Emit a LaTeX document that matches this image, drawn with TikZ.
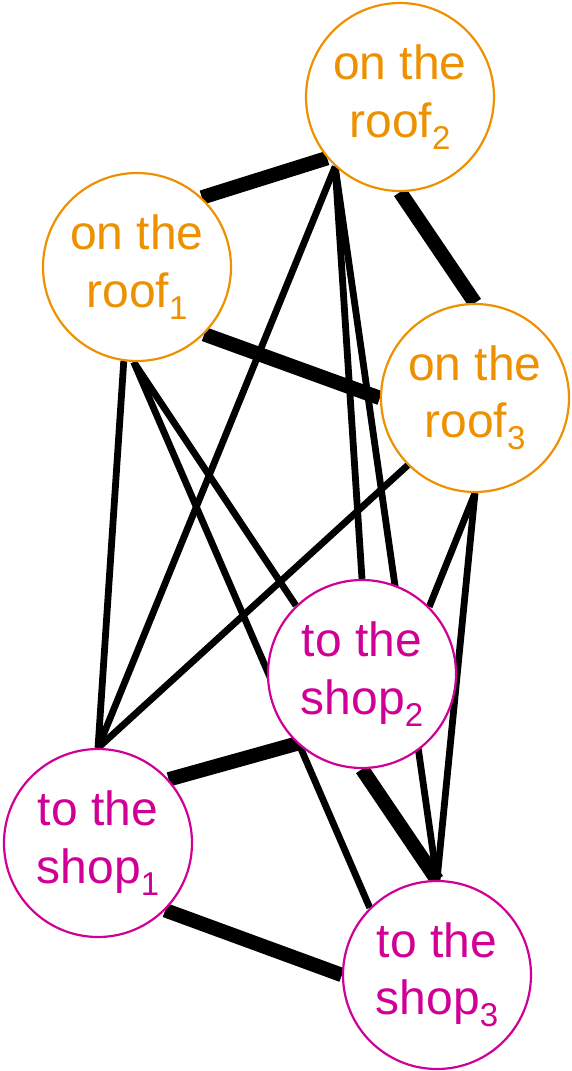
\documentclass[tikz,border=0pt]{standalone}
\usepackage{xcolor}
\usepackage{fontspec}
\usepackage{tikz}
\usetikzlibrary{backgrounds}
\newfontfamily\lblfont{Liberation Sans}
\definecolor{roofcol}{RGB}{237,145,0}
\definecolor{shopcol}{RGB}{208,0,150}
\newcommand{\lowsub}[1]{\raisebox{-6pt}{\fontsize{16.5}{16.5}\selectfont #1}}

\begin{document}
\begin{tikzpicture}[
      x=0.5pt, y=-0.5pt,
      phrase/.style={draw, circle, line width=1.1pt, minimum size=94pt, inner sep=0pt, fill=white, align=center,
                     font=\lblfont\fontsize{24}{28.7}\selectfont, execute at begin node=\rule{0pt}{29.5pt}},
      roof/.style={phrase, draw=roofcol, text=roofcol},
      shop/.style={phrase, draw=shopcol, text=shopcol},
      tie/.style={line width=3.4pt},
      strongtie/.style={line width=7.2pt}
    ]
    \useasboundingbox (0,0) rectangle (572,1071);
    \node[roof] (roof1) at (137,267) {on the\\roof\lowsub{1}};
    \node[roof] (roof2) at (400,97) {on the\\roof\lowsub{2}};
    \node[roof] (roof3) at (475,398) {on the\\roof\lowsub{3}};
    \node[shop] (shop1) at (98,843) {to the\\shop\lowsub{1}};
    \node[shop] (shop2) at (362,674) {to the\\shop\lowsub{2}};
    \node[shop] (shop3) at (437,975) {to the\\shop\lowsub{3}};

    \begin{scope}[on background layer]
    \draw[strongtie] (roof1.47) -- (roof2.220);
    \draw[strongtie] (roof2.south) -- (roof3.north);
    \draw[strongtie] (roof1.-45) -- (roof3.west);
    \draw[strongtie] (shop1.42) -- (shop2.227);
    \draw[strongtie] (shop1.-45) -- (shop3.west);
    \draw[strongtie] (shop2.south) -- (shop3.north);

    \draw[tie] (roof1.262) -- (shop1.north);
    \draw[tie] (roof1.268) -- (shop2.134);
    \draw[tie] (roof1.268) -- (shop3.135);
    \draw[tie] (roof2.227) -- (shop1.north);
    \draw[tie] (roof2.227) -- (shop2.north);
    \draw[tie] (roof2.227) -- (shop3.north);
    \draw[tie] (roof3.225) -- (shop1.north);
    \draw[tie] (roof3.south) -- (shop2.45);
    \draw[tie] (roof3.south) -- (shop3.north);
    \end{scope}
  \end{tikzpicture}
\end{document}
